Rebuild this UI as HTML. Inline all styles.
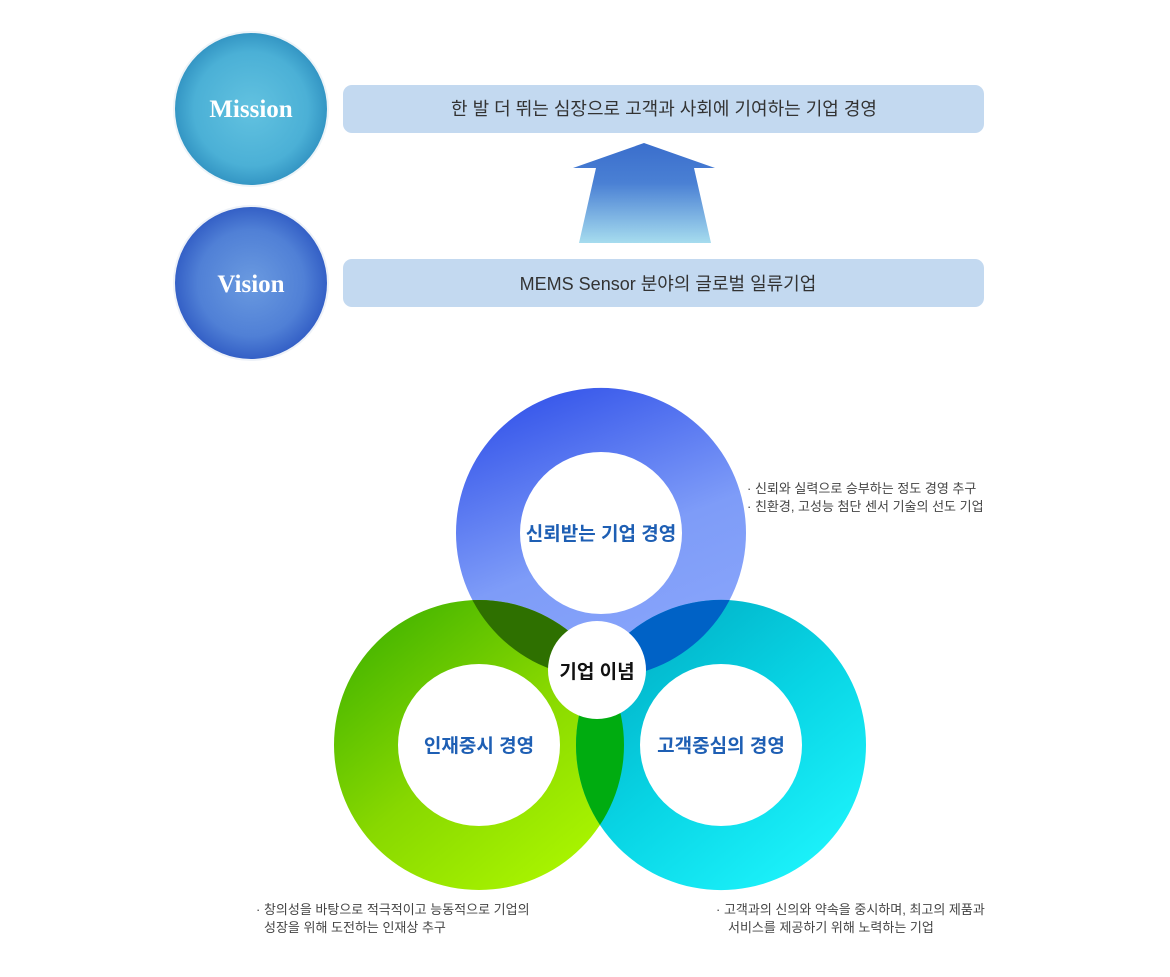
<!DOCTYPE html>
<html><head><meta charset="utf-8"><style>
html,body{margin:0;padding:0;background:#fff;}
svg{display:block;}
text{font-family:"Liberation Sans","Noto Sans CJK KR",sans-serif;}
</style></head><body>
<svg width="1170" height="977" viewBox="0 0 1170 977" xmlns="http://www.w3.org/2000/svg">
<defs>
<radialGradient id="gm" cx="50%" cy="50%" r="50%">
<stop offset="0" stop-color="#62c2e0"/><stop offset="0.75" stop-color="#4bb0d6"/><stop offset="1" stop-color="#3496c4"/></radialGradient>
<radialGradient id="gv" cx="50%" cy="50%" r="50%">
<stop offset="0" stop-color="#6a9ae0"/><stop offset="0.7" stop-color="#5080d6"/><stop offset="1" stop-color="#3460c6"/></radialGradient>
<linearGradient id="ga" x1="0" y1="0" x2="0" y2="1">
<stop offset="0" stop-color="#3a6ecc"/><stop offset="0.4" stop-color="#4a80d4"/><stop offset="1" stop-color="#a6dcee"/></linearGradient>
<linearGradient id="gt" x1="0.3" y1="0" x2="0.7" y2="1">
<stop offset="0" stop-color="#3656ea"/><stop offset="0.55" stop-color="#7e9cf8"/><stop offset="1" stop-color="#8aa6fb"/></linearGradient>
<linearGradient id="gl" x1="0.1" y1="0" x2="0.9" y2="1">
<stop offset="0" stop-color="#3cb000"/><stop offset="0.5" stop-color="#88d800"/><stop offset="1" stop-color="#b0fa00"/></linearGradient>
<linearGradient id="gr" x1="0.1" y1="0" x2="0.9" y2="1">
<stop offset="0" stop-color="#00a8c0"/><stop offset="0.5" stop-color="#08d4e4"/><stop offset="1" stop-color="#20f8ff"/></linearGradient>
<clipPath id="ct"><path clip-rule="evenodd" d="M456,533a145,145 0 1,0 290,0a145,145 0 1,0 -290,0Z M520,533a81,81 0 1,0 162,0a81,81 0 1,0 -162,0Z"/></clipPath>
<clipPath id="cl"><path clip-rule="evenodd" d="M334,745a145,145 0 1,0 290,0a145,145 0 1,0 -290,0Z M398,745a81,81 0 1,0 162,0a81,81 0 1,0 -162,0Z"/></clipPath>
</defs>

<circle cx="251" cy="109" r="78" fill="#eef4f8"/>
<circle cx="251" cy="109" r="76" fill="url(#gm)"/>
<circle cx="251" cy="283" r="78" fill="#eef2f8"/>
<circle cx="251" cy="283" r="76" fill="url(#gv)"/>
<text x="251" y="117" text-anchor="middle" style="font-family:'Liberation Serif',serif" font-size="25" font-weight="bold" fill="#fff">Mission</text>
<text x="251" y="292" text-anchor="middle" style="font-family:'Liberation Serif',serif" font-size="25" font-weight="bold" fill="#fff">Vision</text>

<rect x="343" y="85" width="641" height="48" rx="9" fill="#c3d9f0"/>
<rect x="343" y="259" width="641" height="48" rx="9" fill="#c3d9f0"/>
<text x="664" y="115" text-anchor="middle" font-size="18" fill="#333">한 발 더 뛰는 심장으로 고객과 사회에 기여하는 기업 경영</text>
<text x="668" y="290" text-anchor="middle" font-size="18" fill="#333">MEMS Sensor 분야의 글로벌 일류기업</text>

<path d="M644,143 L715,168 L694,168 L711,243 L579,243 L596,168 L573,168 Z" fill="url(#ga)"/>

<path fill-rule="evenodd" fill="url(#gt)" d="M456,533a145,145 0 1,0 290,0a145,145 0 1,0 -290,0Z M520,533a81,81 0 1,0 162,0a81,81 0 1,0 -162,0Z"/>
<path fill-rule="evenodd" fill="url(#gl)" d="M334,745a145,145 0 1,0 290,0a145,145 0 1,0 -290,0Z M398,745a81,81 0 1,0 162,0a81,81 0 1,0 -162,0Z"/>
<path fill-rule="evenodd" fill="url(#gr)" d="M576,745a145,145 0 1,0 290,0a145,145 0 1,0 -290,0Z M640,745a81,81 0 1,0 162,0a81,81 0 1,0 -162,0Z"/>
<g clip-path="url(#ct)">
<path fill-rule="evenodd" fill="#2e7000" d="M334,745a145,145 0 1,0 290,0a145,145 0 1,0 -290,0Z M398,745a81,81 0 1,0 162,0a81,81 0 1,0 -162,0Z"/>
<path fill-rule="evenodd" fill="#0062c6" d="M576,745a145,145 0 1,0 290,0a145,145 0 1,0 -290,0Z M640,745a81,81 0 1,0 162,0a81,81 0 1,0 -162,0Z"/>
</g>
<g clip-path="url(#cl)">
<path fill-rule="evenodd" fill="#00ac10" d="M576,745a145,145 0 1,0 290,0a145,145 0 1,0 -290,0Z M640,745a81,81 0 1,0 162,0a81,81 0 1,0 -162,0Z"/>
</g>
<circle cx="597" cy="670" r="49" fill="#fff"/>

<text x="601" y="540" text-anchor="middle" font-size="19" font-weight="bold" fill="#1e5fb4">신뢰받는 기업 경영</text>
<text x="479" y="752" text-anchor="middle" font-size="19" font-weight="bold" fill="#1e5fb4">인재중시 경영</text>
<text x="721" y="752" text-anchor="middle" font-size="19" font-weight="bold" fill="#1e5fb4">고객중심의 경영</text>
<text x="597" y="678" text-anchor="middle" font-size="19" font-weight="bold" fill="#111">기업 이념</text>

<g font-size="13" fill="#444">
<text x="747" y="493">· 신뢰와 실력으로 승부하는 정도 경영 추구</text>
<text x="747" y="511">· 친환경, 고성능 첨단 센서 기술의 선도 기업</text>
<text x="256" y="914">· 창의성을 바탕으로 적극적이고 능동적으로 기업의</text>
<text x="264" y="932">성장을 위해 도전하는 인재상 추구</text>
<text x="716" y="914">· 고객과의 신의와 약속을 중시하며, 최고의 제품과</text>
<text x="728" y="932">서비스를 제공하기 위해 노력하는 기업</text>
</g>
</svg>
</body></html>
